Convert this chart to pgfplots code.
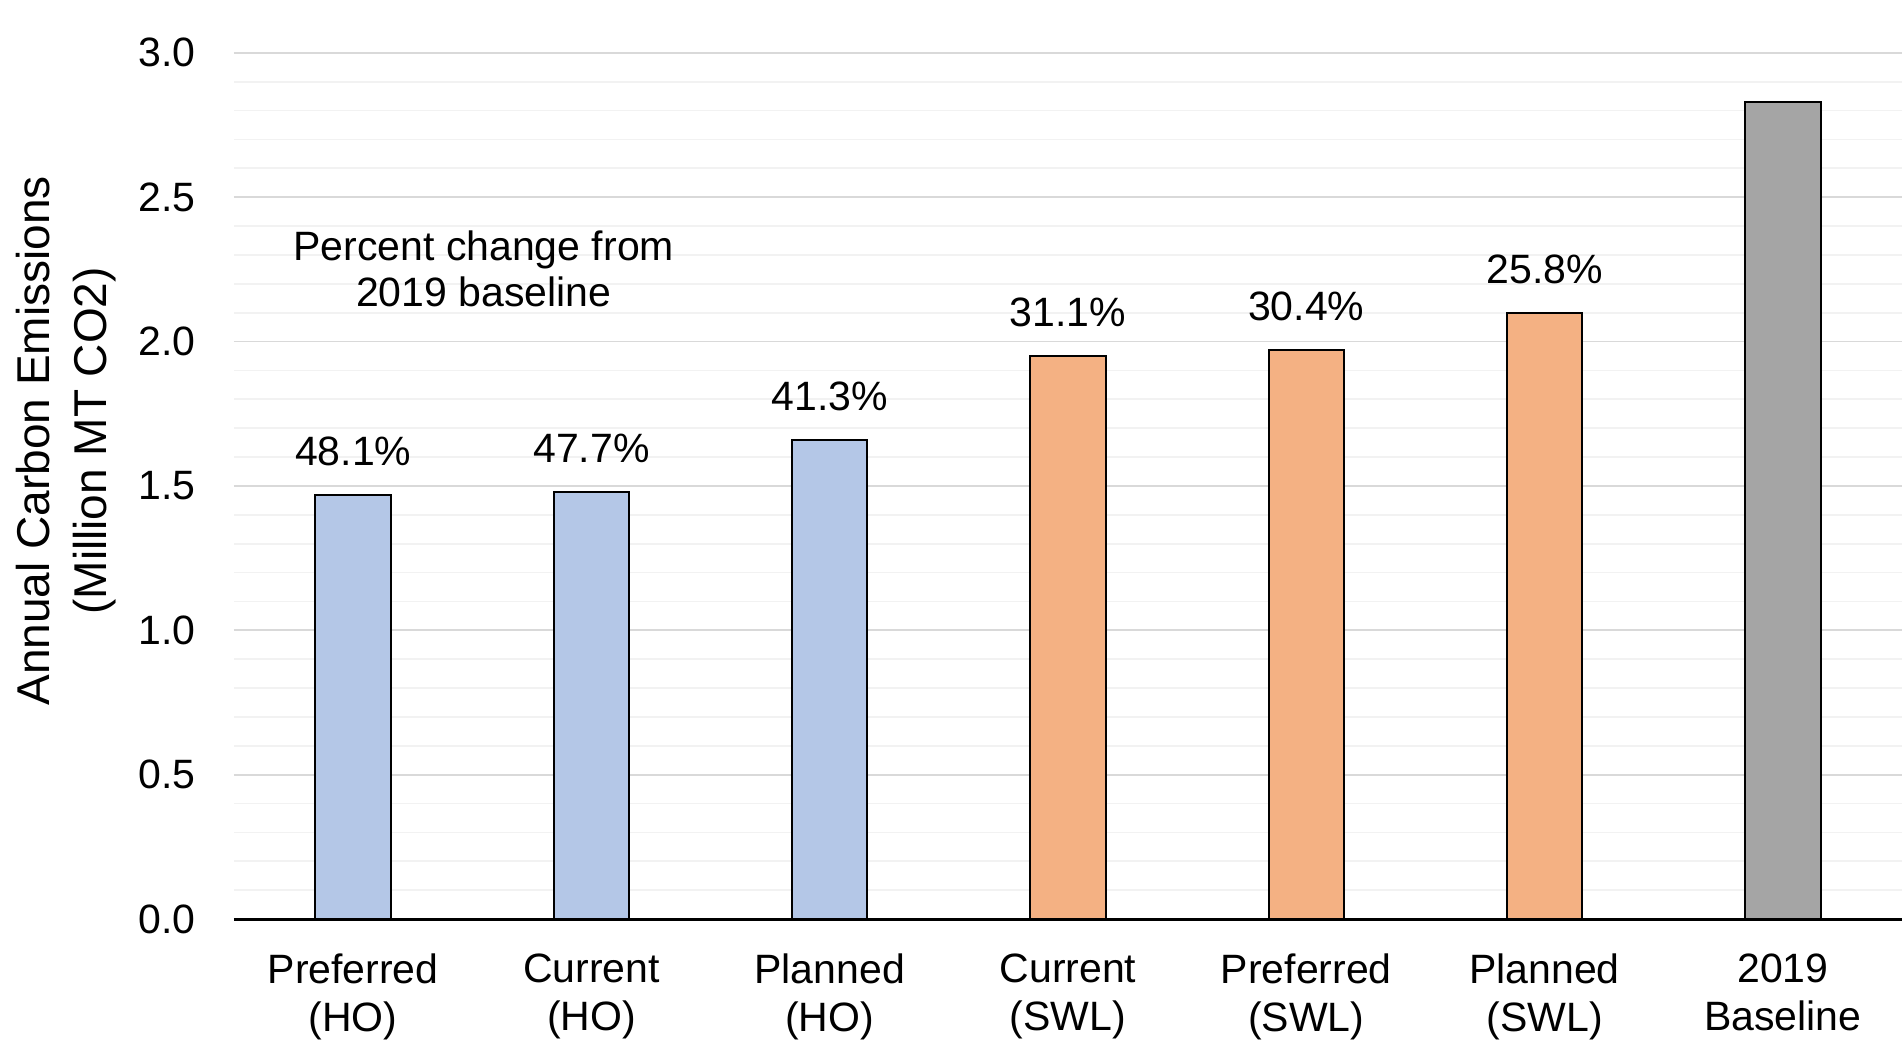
\documentclass[border=0pt]{standalone}
\usepackage{fontspec}
\setmainfont{Liberation Sans}
\usepackage{pgfplots}
\pgfplotsset{compat=1.18}
\definecolor{hoblue}{HTML}{B4C7E7}
\definecolor{swlorange}{HTML}{F4B183}
\definecolor{basegray}{HTML}{A5A5A5}
\definecolor{majgrid}{HTML}{D9D9D9}
\definecolor{mingrid}{HTML}{F2F2F2}
\newcommand{\tf}{\fontsize{16.4}{19.3}\selectfont}
\begin{document}
\begin{tikzpicture}
\begin{axis}[
  name=ax,
  scale only axis,
  width=667.2pt, height=346.5pt,
  xmin=-0.5, xmax=6.5,
  ymin=0, ymax=3,
  axis x line*=bottom,
  axis y line*=left,
  x axis line style={line width=1.2pt, black},
  y axis line style={draw=none},
  xtick={0,1,2,3,4,5,6},
  xticklabels={{Preferred\\(HO)},{Current\\(HO)},{Planned\\(HO)},{Current\\(SWL)},{Preferred\\(SWL)},{Planned\\(SWL)},{2019\\Baseline}},
  xticklabel style={align=center, anchor=north, inner sep=0pt, yshift=-13.6pt, font=\tf},
  ytick={0,0.5,1,1.5,2,2.5,3},
  minor ytick={0.1,0.2,0.3,0.4,0.6,0.7,0.8,0.9,1.1,1.2,1.3,1.4,1.6,1.7,1.8,1.9,2.1,2.2,2.3,2.4,2.6,2.7,2.8,2.9},
  yticklabel style={font=\tf, inner sep=0pt, xshift=-15.2pt},
  /pgf/number format/assume math mode=true,
  yticklabel={\pgfmathprintnumber[fixed,fixed zerofill,precision=1]{\tick}},
  major tick length=0pt, minor tick length=0pt,
  tick style={draw=none},
  ymajorgrids, yminorgrids,
  major grid style={majgrid, line width=0.7pt},
  minor grid style={mingrid, line width=0.7pt},
  ylabel={Annual Carbon Emissions\\(Million MT CO2)},
  ylabel style={at={(rel axis cs:-0.1007,0.552)}, anchor=center, align=center, font=\fontsize{18.4}{22.5}\selectfont},
  ybar,
  bar width=30.2pt,
  point meta=explicit symbolic,
  every node near coord/.append style={font=\tf, inner sep=0pt, yshift=11.2pt},
]
\addplot[ybar, bar shift=0pt, fill=hoblue, draw=black, line width=0.8pt, nodes near coords]
  coordinates {(0,1.47) [48.1\%] (1,1.48) [47.7\%] (2,1.66) [41.3\%]};
\addplot[ybar, bar shift=0pt, fill=swlorange, draw=black, line width=0.8pt, nodes near coords]
  coordinates {(3,1.95) [31.1\%] (4,1.97) [30.4\%] (5,2.10) [25.8\%]};
\addplot[ybar, bar shift=0pt, fill=basegray, draw=black, line width=0.8pt]
  coordinates {(6,2.83) []};
\node[font=\tf, anchor=base, inner sep=0pt] at (axis cs:0.548,2.282) {Percent change from};
\node[font=\tf, anchor=base, inner sep=0pt] at (axis cs:0.548,2.122) {2019 baseline};
\end{axis}
\pgfresetboundingbox
\path[use as bounding box] ([shift={(-93.6pt,-53.6pt)}]ax.south west) rectangle ([shift={(0.4pt,21.1pt)}]ax.north east);
\end{tikzpicture}
\end{document}
